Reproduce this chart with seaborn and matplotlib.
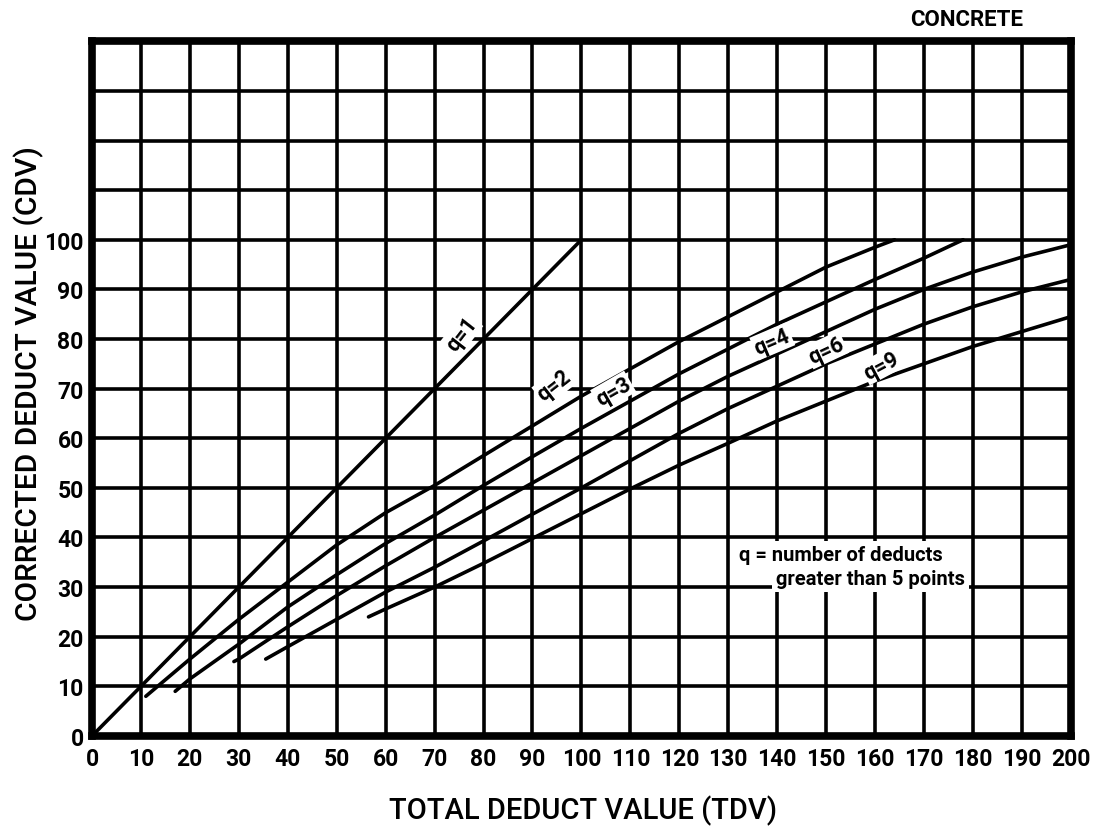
import matplotlib
matplotlib.use("Agg")
import pandas as pd
import matplotlib.pyplot as plt
import seaborn as sns


# axis ticks
TDV_TICKS = list(range(0, 201, 10))
CDV_TICKS = list(range(0, 141, 10))
CDV_LABELS = [str(v) if v <= 100 else "" for v in CDV_TICKS]

# curves: q = number of deducts greater than 5 points
q1_tdv = [0, 10, 20, 30, 40, 50, 60, 70, 80, 90, 100]
q1_cdv = [0, 10, 20, 30, 40, 50, 60, 70, 80, 90, 100]

q2_tdv = [11, 20, 30, 40, 50, 60, 70, 80, 90, 100, 110, 120, 130, 140, 150, 160, 164]
q2_cdv = [8, 15.5, 23.5, 31, 38.5, 45, 50.5, 56.5, 62.5, 68.5, 74, 79.5, 84.5, 89.5, 94.5, 98.5, 100]

q3_tdv = [17, 20, 30, 40, 50, 60, 70, 80, 90, 100, 110, 120, 130, 140, 150, 160, 170, 178]
q3_cdv = [9, 11.5, 18.5, 26, 32.5, 38.8, 44.5, 50.5, 56.3, 62, 67.5, 73, 78, 83, 87.5, 92, 96.3, 100]

q4_tdv = [29, 30, 40, 50, 60, 70, 80, 90, 100, 110, 120, 130, 140, 150, 160, 170, 180, 190, 200]
q4_cdv = [15, 15.5, 22, 28.3, 34.3, 40, 45.5, 51, 56.5, 62, 67.5, 72.5, 77, 81.5, 86, 90, 93.5, 96.5, 99]

q6_tdv = [35.5, 40, 50, 60, 70, 80, 90, 100, 110, 120, 130, 140, 150, 160, 170, 180, 190, 200]
q6_cdv = [15.5, 18, 23.5, 29, 34, 39.3, 44.7, 50, 55.5, 61, 66, 70.5, 75, 79, 83, 86.5, 89.5, 92]

q9_tdv = [56.5, 60, 70, 80, 90, 100, 110, 120, 130, 140, 150, 160, 170, 180, 190, 200]
q9_cdv = [24, 25.6, 30, 34.8, 39.8, 44.8, 49.8, 54.6, 59, 63.5, 67.5, 71.5, 75, 78.5, 81.5, 84.5]

curves = {
    "1": (q1_tdv, q1_cdv),
    "2": (q2_tdv, q2_cdv),
    "3": (q3_tdv, q3_cdv),
    "4": (q4_tdv, q4_cdv),
    "6": (q6_tdv, q6_cdv),
    "9": (q9_tdv, q9_cdv),
}

# curve labels: (tdv, cdv, rotation)
label_spots = {
    "1": (75.5, 81, 52),
    "2": (94.5, 70.7, 38),
    "3": (106.5, 69.5, 30),
    "4": (139, 79.5, 23),
    "6": (150, 77.8, 25),
    "9": (161.3, 74.7, 28),
}

df = pd.concat(
    [pd.DataFrame({"tdv": x, "cdv": y, "q": q}) for q, (x, y) in curves.items()],
    ignore_index=True,
)

sns.set_theme(style="white")
plt.rcParams["font.family"] = ["Roboto", "DejaVu Sans"]
plt.rcParams["text.color"] = "black"
plt.rcParams["xtick.color"] = "black"
plt.rcParams["ytick.color"] = "black"

fig = plt.figure(figsize=(11.11, 8.29), dpi=100)
ax = fig.add_axes([0.0828, 0.111, 0.881, 0.838])

sns.lineplot(
    data=df, x="tdv", y="cdv", hue="q", palette=["black"] * len(curves),
    estimator=None, sort=False, legend=False, linewidth=2.6, ax=ax, zorder=3,
)

ax.set_xlim(0, 200)
ax.set_ylim(0, 140)
ax.set_xticks(TDV_TICKS)
ax.set_xticklabels([str(v) for v in TDV_TICKS])
ax.set_yticks(CDV_TICKS)
ax.set_yticklabels(CDV_LABELS)
ax.grid(True, color="black", linewidth=2.6, zorder=1)
ax.set_axisbelow(True)
ax.tick_params(length=0, labelsize=16.5, labelcolor="black")
ax.tick_params(axis="x", pad=8)
ax.tick_params(axis="y", pad=6)
for lab in ax.get_xticklabels() + ax.get_yticklabels():
    lab.set_fontweight("bold")
ax.set_xlabel("")
ax.set_ylabel("")
for side in ax.spines.values():
    side.set_visible(True)
    side.set_color("black")
    side.set_linewidth(5.5)

for q, (lx, ly, rot) in label_spots.items():
    ax.text(lx, ly, f"q={q}", fontsize=15.5, fontweight="bold", rotation=rot,
            ha="center", va="center", rotation_mode="anchor", zorder=5,
            color="black",
            bbox=dict(facecolor="white", edgecolor="none", pad=1.0))

ax.text(132.3, 36.6, "q = number of deducts", fontsize=14.5, fontweight="bold",
        ha="left", va="center", zorder=5, color="black",
        bbox=dict(facecolor="white", edgecolor="none", pad=3))
ax.text(139.8, 31.8, "greater than 5 points", fontsize=14.5, fontweight="bold",
        ha="left", va="center", zorder=5, color="black",
        bbox=dict(facecolor="white", edgecolor="none", pad=3))

fig.text(0.525, 0.022, "TOTAL DEDUCT VALUE (TDV)", fontsize=21, fontweight="medium",
         ha="center", va="center", color="black")
fig.text(0.026, 0.537, "CORRECTED DEDUCT VALUE (CDV)", fontsize=21.5, fontweight="medium",
         rotation=90, ha="center", va="center", color="black")
fig.text(0.921, 0.976, "CONCRETE", fontsize=16, fontweight="bold",
         ha="right", va="center", color="black")

fig.savefig("out.png", dpi=100, facecolor="white")
